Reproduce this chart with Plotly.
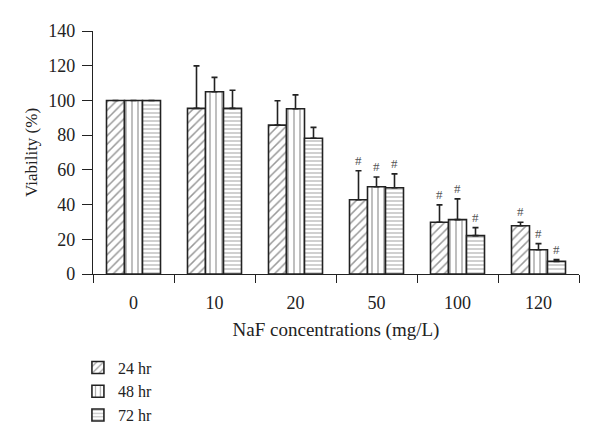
import plotly.graph_objects as go

categories = ["0", "10", "20", "50", "100", "120"]
series_names = ["24 hr", "48 hr", "72 hr"]
v24 = [100, 95.4, 85.8, 42.8, 29.8, 27.8]
v48 = [100, 105.0, 95.2, 50.3, 31.3, 14.0]
v72 = [100, 95.4, 78.2, 49.7, 22.1, 7.3]
e24 = [0, 24.5, 14.0, 16.7, 10.0, 2.0]
e48 = [0, 8.3, 8.0, 5.6, 12.0, 3.5]
e72 = [0, 10.5, 6.3, 8.0, 4.6, 1.0]
hash_flags = [False, False, False, True, True, True]

values = [v24, v48, v72]
errors = [e24, e48, e72]
shapes = ["/", "|", "-"]
pat_sizes = [6, 6, 4]
pat_colors = ["#333", "#555", "#444"]

FONT = "Liberation Serif"
bargap = 1 / 3
bar_w = (1 - bargap) / 3

fig = go.Figure()
for j, (name, v, e, sh, ps, pc) in enumerate(zip(series_names, values, errors, shapes, pat_sizes, pat_colors)):
    fig.add_trace(go.Bar(
        x=categories, y=v, name=name,
        marker=dict(color="white", line=dict(color="#222", width=1.6),
                    pattern=dict(shape=sh, size=ps, solidity=0.25, fgcolor=pc, bgcolor="white")),
        error_y=dict(type="data", array=e, arrayminus=[0] * len(e), symmetric=False,
                     color="#222", thickness=1.6, width=3),
    ))
    for i, cat in enumerate(categories):
        if hash_flags[i]:
            fig.add_annotation(x=i + (j - 1) * bar_w, y=v[i] + e[i], text="#",
                               showarrow=False, yanchor="bottom", yshift=1,
                               font=dict(family=FONT, size=13, color="#555"))

fig.update_layout(
    width=600, height=447,
    margin=dict(l=85, r=29, t=23, b=181, autoexpand=False),
    paper_bgcolor="white", plot_bgcolor="white",
    barmode="group", bargap=bargap, bargroupgap=0,
    font=dict(family=FONT, size=17, color="#222"),
    showlegend=True,
    legend=dict(x=-0.031, y=-0.315, xanchor="left", yanchor="top",
                font=dict(family=FONT, size=16), tracegroupgap=0,
                itemwidth=30, bgcolor="rgba(0,0,0,0)"),
)
fig.update_xaxes(
    type="category", showline=True, linecolor="#222", linewidth=1.2,
    ticks="outside", tickson="boundaries", ticklen=8, tickcolor="#222", tickwidth=1.2,
    showgrid=False, zeroline=False, ticklabelstandoff=12,
    title=dict(text="NaF concentrations (mg/L)", font=dict(family=FONT, size=19), standoff=10),
    tickfont=dict(family=FONT, size=18),
)
fig.update_yaxes(
    range=[0, 140], dtick=20, showline=True, linecolor="#222", linewidth=1.2,
    ticks="outside", ticklen=10, tickcolor="#222", tickwidth=1.2,
    showgrid=False, zeroline=False, ticklabelstandoff=3,
    title=dict(text="Viability (%)", font=dict(family=FONT, size=17), standoff=6),
    tickfont=dict(family=FONT, size=18),
)

fig.write_html("out.html")
